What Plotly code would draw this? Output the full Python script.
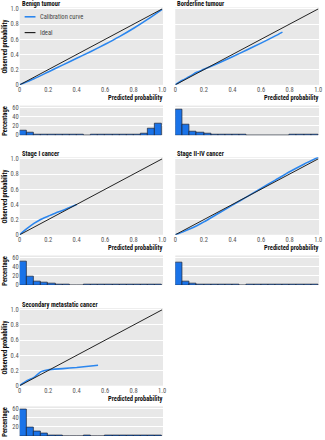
import plotly.graph_objects as go

W, H = 325, 440

# ---------------- data ----------------
titles = ["Benign tumour", "Borderline tumour", "Stage I cancer",
          "Stage II-IV cancer", "Secondary metastatic cancer"]

benign_x = [0.0, 0.05, 0.1, 0.2, 0.3, 0.4, 0.5, 0.6, 0.7, 0.8, 0.9, 1.0]
benign_y = [0.0, 0.04, 0.08, 0.17, 0.26, 0.35, 0.44, 0.535, 0.635, 0.745, 0.865, 0.995]

border_x = [0.0, 0.05, 0.1, 0.15, 0.2, 0.3, 0.4, 0.5, 0.6, 0.7, 0.75]
border_y = [0.0, 0.06, 0.11, 0.165, 0.205, 0.285, 0.37, 0.46, 0.55, 0.645, 0.695]

stage1_x = [0.0, 0.05, 0.1, 0.15, 0.2, 0.25, 0.3, 0.35, 0.4]
stage1_y = [0.0, 0.08, 0.15, 0.205, 0.245, 0.285, 0.32, 0.36, 0.4]

stage24_x = [0.0, 0.05, 0.1, 0.15, 0.2, 0.3, 0.4, 0.5, 0.6, 0.7, 0.8, 0.9, 1.0]
stage24_y = [0.0, 0.035, 0.075, 0.12, 0.17, 0.28, 0.39, 0.5, 0.61, 0.72, 0.83, 0.93, 1.02]

second_x = [0.0, 0.05, 0.1, 0.15, 0.2, 0.3, 0.4, 0.5, 0.55]
second_y = [0.0, 0.065, 0.11, 0.185, 0.21, 0.225, 0.24, 0.26, 0.27]

curves_x = [benign_x, border_x, stage1_x, stage24_x, second_x]
curves_y = [benign_y, border_y, stage1_y, stage24_y, second_y]

ideal = [0.0, 1.0]

bin_centers = [0.025 + 0.05 * i for i in range(20)]
hist_benign = [11, 5, 2, 1.5, 1.5, 1, 1, 1, 1, 0, 1, 1, 1, 1, 1, 1.5, 2, 4, 15, 24]
hist_border = [56, 22, 8, 5, 2.5, 1, 0.5, 0.5, 0.5, 0.5, 0, 0, 0, 0, 0, 0, 0.3, 0.3, 0.3, 0.3]
hist_stage1 = [52, 18, 8, 5, 3, 1, 0.4, 0, 0, 0.3, 0.3, 0.3, 0.3, 0.3, 0.3, 0.3, 0.3, 0.3, 0.3, 0.3]
hist_stage24 = [48, 7, 3, 1.5, 1, 1, 0.8, 0.8, 0.8, 0, 0.8, 0.8, 0.8, 0.8, 0.8, 0.8, 0.5, 1.2, 1.5, 1.5]
hist_second = [58, 19, 11, 6, 2, 1.5, 0, 0, 0, 1, 0, 0, 0.3, 0.3, 0.3, 0.3, 0.3, 0.3, 0.3, 0.3]
hists = [hist_benign, hist_border, hist_stage1, hist_stage24, hist_second]

prob_ticks = [0, 0.2, 0.4, 0.6, 0.8, 1.0]
prob_labels = ["0", "0.2", "0.4", "0.6", "0.8", "1.0"]
pct_ticks = [0, 20, 40, 60]

legend_labels = ["Calibration curve", "Ideal"]

# ---------------- style ----------------
BG = "#e8e8e8"
BLUE_LINE = "#2b86ee"
BLUE_BAR = "#1a73e8"
BLACK_LINE = "#222222"
FONT = "Liberation Sans Narrow, Roboto Condensed, Lato, sans-serif"
FS = 6.5

col_x = [(18, 163.5), (176, 322)]
row_off = [0, 152, 305]
cal_dom = (5.5, 84)
hist_dom = (105, 135)

def px_x(p):
    return p / W

def px_y(p):
    return 1 - p / H

fig = go.Figure()
layout = {}
annotations = []
shapes = []

tickfont = dict(size=FS, color="#555555", family=FONT)
boldfont = dict(size=FS, color="#111111", family=FONT)

for i in range(5):
    r, c = divmod(i, 2)
    x0, x1 = col_x[c]
    off = row_off[r]
    n_cal = 2 * i + 1
    n_hist = 2 * i + 2
    xa = "x" if n_cal == 1 else f"x{n_cal}"
    ya = "y" if n_cal == 1 else f"y{n_cal}"
    xh = f"x{n_hist}"
    yh = f"y{n_hist}"

    fig.add_trace(go.Scatter(x=curves_x[i], y=curves_y[i], mode="lines",
                             line=dict(color=BLUE_LINE, width=1.6, shape="spline", smoothing=0.6),
                             name=legend_labels[0], showlegend=False, xaxis=xa, yaxis=ya))
    fig.add_trace(go.Scatter(x=ideal, y=ideal, mode="lines",
                             line=dict(color=BLACK_LINE, width=1),
                             name=legend_labels[1], showlegend=False, xaxis=xa, yaxis=ya))
    fig.add_trace(go.Bar(x=bin_centers, y=hists[i], width=0.05,
                         marker=dict(color=BLUE_BAR, line=dict(color="#1b2333", width=0.7)),
                         showlegend=False, xaxis=xh, yaxis=yh))

    kx = "xaxis" if n_cal == 1 else f"xaxis{n_cal}"
    ky = "yaxis" if n_cal == 1 else f"yaxis{n_cal}"
    layout[kx] = dict(domain=[px_x(x0), px_x(x1)], range=[0, 1.006], anchor=ya,
                      showgrid=False, zeroline=False, showline=False,
                      tickvals=prob_ticks, ticktext=prob_labels,
                      tickfont=tickfont, ticks="", fixedrange=True)
    layout[ky] = dict(domain=[px_y(cal_dom[1] + off), px_y(cal_dom[0] + off)],
                      range=[0, 1.02], anchor=xa,
                      showgrid=True, gridcolor="white", gridwidth=1,
                      zeroline=False, showline=False,
                      tickvals=prob_ticks, ticktext=prob_labels,
                      showticklabels=(c == 0),
                      tickfont=tickfont, ticks="", fixedrange=True)
    layout[f"xaxis{n_hist}"] = dict(domain=[px_x(x0), px_x(x1)], range=[0, 1.006],
                                    anchor=yh, showgrid=False, zeroline=False,
                                    showline=False, showticklabels=False, ticks="",
                                    fixedrange=True)
    layout[f"yaxis{n_hist}"] = dict(domain=[px_y(hist_dom[1] + off), px_y(hist_dom[0] + off)],
                                    range=[0, 64], anchor=xh,
                                    showgrid=True, gridcolor="white", gridwidth=1,
                                    zeroline=False, showline=False,
                                    tickvals=pct_ticks, showticklabels=(c == 0),
                                    tickfont=tickfont, ticks="", fixedrange=True)

    annotations.append(dict(text=f"<b>{titles[i]}</b>", x=px_x(x0), y=px_y(2.5 + off),
                            xref="paper", yref="paper", xanchor="left", yanchor="middle",
                            showarrow=False, font=boldfont))
    annotations.append(dict(text="<b>Predicted probability</b>", x=px_x(x1 + 1), y=px_y(97.5 + off),
                            xref="paper", yref="paper", xanchor="right", yanchor="middle",
                            showarrow=False, font=boldfont))
    if c == 0:
        annotations.append(dict(text="<b>Observed probability</b>", x=px_x(3.5),
                                y=px_y((cal_dom[0] + cal_dom[1]) / 2 + off),
                                xref="paper", yref="paper", xanchor="center", yanchor="middle",
                                textangle=-90, showarrow=False, font=boldfont))
        annotations.append(dict(text="<b>Percentage</b>", x=px_x(3.5),
                                y=px_y((hist_dom[0] + hist_dom[1]) / 2 + off),
                                xref="paper", yref="paper", xanchor="center", yanchor="middle",
                                textangle=-90, showarrow=False, font=boldfont))

# legend (drawn in the Benign panel)
for lbl, col, wdt, ypx in [(legend_labels[0], BLUE_LINE, 1.6, 15), (legend_labels[1], BLACK_LINE, 1.2, 31)]:
    shapes.append(dict(type="line", xref="paper", yref="paper",
                       x0=px_x(23), x1=px_x(34), y0=px_y(ypx), y1=px_y(ypx),
                       line=dict(color=col, width=wdt)))
    annotations.append(dict(text=lbl, x=px_x(37), y=px_y(ypx), xref="paper", yref="paper",
                            xanchor="left", yanchor="middle", showarrow=False,
                            font=dict(size=FS, color="#444444", family=FONT)))

fig.update_layout(**layout)
fig.update_layout(
    width=W, height=H, margin=dict(l=0, r=0, t=0, b=0),
    paper_bgcolor="white", plot_bgcolor=BG,
    font=dict(family=FONT, size=FS, color="#333333"),
    annotations=annotations, shapes=shapes,
    bargap=0, showlegend=False,
)

fig.write_html("out.html")
